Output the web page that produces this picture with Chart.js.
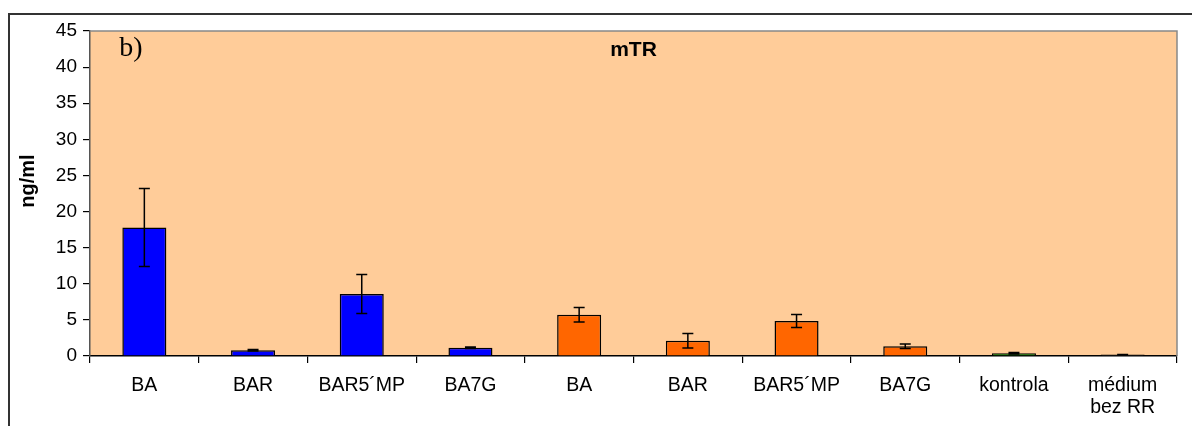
<!DOCTYPE html>
<html>
<head>
<meta charset="utf-8">
<title>mTR</title>
<script src="https://cdn.jsdelivr.net/npm/chart.js@4.4.1/dist/chart.umd.min.js"></script>
<style>
  html, body { margin: 0; padding: 0; background: #ffffff; }
  #wrap { width: 1192px; height: 426px; }
</style>
</head>
<body>
<div id="wrap"><canvas id="chart" width="1192" height="426"></canvas></div>
<script>
// Treatment groups along the x axis
const categories = ['BA', 'BAR', 'BAR5´MP', 'BA7G', 'BA', 'BAR', 'BAR5´MP', 'BA7G', 'kontrola', ['médium', 'bez RR']];
// Mean concentration (ng/ml) and its error
const means  = [17.8, 0.8, 8.6, 1.15, 5.7, 2.1, 4.85, 1.35, 0.37, 0.2];
const errors = [5.4, 0.1, 2.7, 0.1, 1.0, 1.0, 0.9, 0.3, 0.1, 0.02];
const barColors = ['#0000ff', '#0000ff', '#0000ff', '#0000ff',
                   '#ff6600', '#ff6600', '#ff6600', '#ff6600',
                   '#006400', '#303030'];
// Value axis
const yTicks = [0, 5, 10, 15, 20, 25, 30, 35, 40, 45];
const yTitle = 'ng/ml';
const chartTitle = 'mTR';
const panelLabel = 'b)';

const SANS = '"Liberation Sans", Arial, sans-serif';
const SERIF = '"Liberation Serif", "Times New Roman", serif';

// Frame, plot background and border
const framePlugin = {
  id: 'frame',
  beforeDraw(chart) {
    const { ctx, chartArea: a } = chart;
    ctx.save();
    ctx.fillStyle = '#ffcc99';
    ctx.fillRect(a.left, a.top, a.right - a.left, a.bottom - a.top);
    // outer frame (top and left edges)
    ctx.strokeStyle = '#333333';
    ctx.lineWidth = 2;
    ctx.beginPath();
    ctx.moveTo(9, chart.height);
    ctx.lineTo(9, 14);
    ctx.lineTo(chart.width, 14);
    ctx.stroke();
    ctx.restore();
  },
  afterDatasetsDraw(chart) {
    const { ctx, chartArea: a } = chart;
    ctx.save();
    ctx.strokeStyle = '#888888';
    ctx.lineWidth = 1.5;
    ctx.beginPath();
    ctx.moveTo(a.left, a.top);
    ctx.lineTo(a.right, a.top);
    ctx.lineTo(a.right, a.bottom);
    ctx.stroke();
    ctx.restore();
  }
};

// Error bars with caps
const errorBarPlugin = {
  id: 'errorBars',
  afterDatasetsDraw(chart) {
    const { ctx } = chart;
    const y = chart.scales.y;
    const meta = chart.getDatasetMeta(0);
    ctx.save();
    ctx.strokeStyle = '#000000';
    ctx.lineWidth = 1.5;
    meta.data.forEach((bar, i) => {
      const e = errors[i];
      if (!e) return;
      const top = y.getPixelForValue(means[i] + e);
      const bot = y.getPixelForValue(Math.max(0, means[i] - e));
      const x = bar.x;
      const cap = 5.5;
      ctx.beginPath();
      ctx.moveTo(x, top); ctx.lineTo(x, bot);
      ctx.moveTo(x - cap, top); ctx.lineTo(x + cap, top);
      ctx.moveTo(x - cap, bot); ctx.lineTo(x + cap, bot);
      ctx.stroke();
    });
    ctx.restore();
  }
};

// Title, panel letter and value-axis title
const labelsPlugin = {
  id: 'labels',
  afterDraw(chart) {
    const { ctx, chartArea: a } = chart;
    ctx.save();
    ctx.fillStyle = '#000000';
    ctx.textAlign = 'center';
    ctx.textBaseline = 'middle';
    ctx.font = 'bold 21px ' + SANS;
    ctx.fillText(chartTitle, (a.left + a.right) / 2, 50);
    ctx.font = '28px ' + SERIF;
    ctx.fillText(panelLabel, 131, 49);
    ctx.translate(28, 181);
    ctx.rotate(-Math.PI / 2);
    ctx.font = 'bold 20px ' + SANS;
    ctx.fillText(yTitle, 0, 0);
    ctx.restore();
  }
};

new Chart(document.getElementById('chart'), {
  type: 'bar',
  data: {
    labels: categories,
    datasets: [{
      data: means,
      backgroundColor: barColors,
      borderColor: '#000000',
      borderWidth: 1.5,
      categoryPercentage: 1.0,
      barPercentage: 0.405
    }]
  },
  options: {
    responsive: false,
    devicePixelRatio: 1,
    animation: false,
    layout: { padding: { left: 0, top: 31, right: 15, bottom: 0 } },
    plugins: {
      legend: { display: false },
      tooltip: { enabled: false },
      title: { display: false }
    },
    scales: {
      x: {
        offset: true,
        grid: { offset: true, drawOnChartArea: false, tickLength: 7, color: '#000000', lineWidth: 1.2 },
        border: { display: true, color: '#000000', width: 1.5 },
        ticks: {
          color: '#000000', font: { family: SANS, size: 19.5, lineHeight: 1.1 }, padding: 12,
          maxRotation: 0, minRotation: 0, autoSkip: false
        },
        afterFit(scale) { scale.height = 70; }
      },
      y: {
        min: 0, max: 45,
        afterBuildTicks(scale) { scale.ticks = yTicks.map(v => ({ value: v })); },
        grid: { drawOnChartArea: false, tickLength: 7, color: '#000000', lineWidth: 1.2 },
        border: { display: true, color: '#555555', width: 1.5 },
        ticks: { color: '#000000', font: { family: SANS, size: 19 }, padding: 6 },
        afterFit(scale) { scale.width = 90; }
      }
    }
  },
  plugins: [framePlugin, errorBarPlugin, labelsPlugin]
});
</script>
</body>
</html>
